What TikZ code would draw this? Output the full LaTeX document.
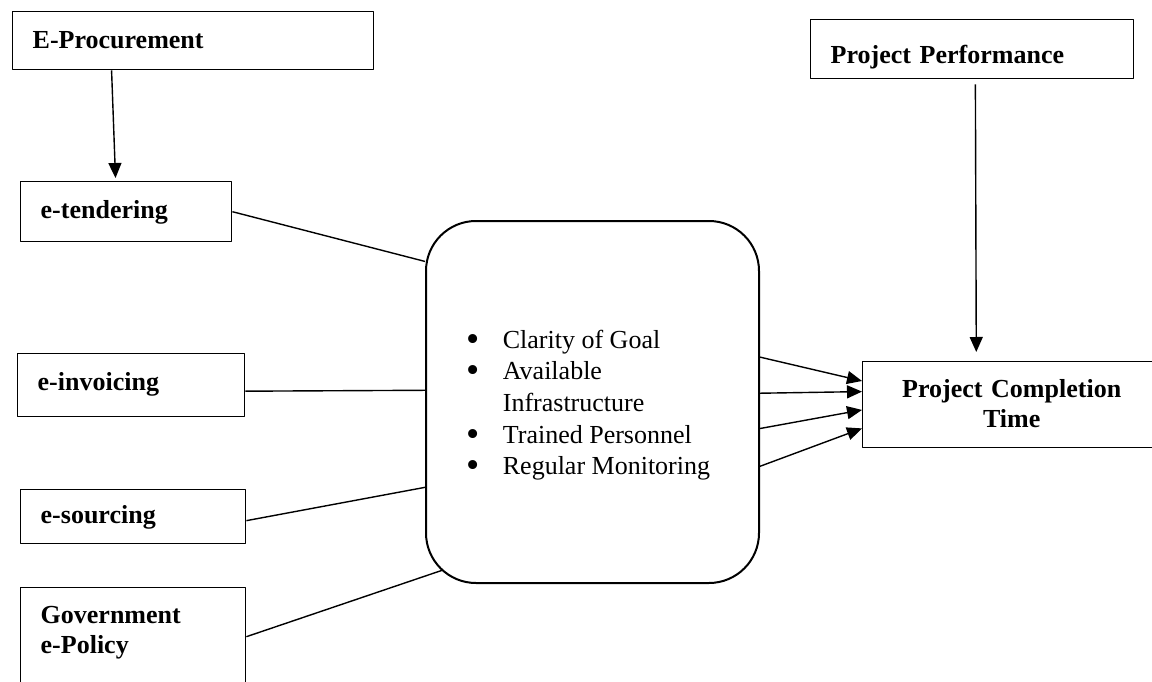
\documentclass[tikz,border=0pt]{standalone}
\usepackage{fontspec}
\setmainfont{Liberation Serif}
\usetikzlibrary{arrows.meta}
\newcommand{\bigbul}{\raisebox{-3pt}{\scalebox{1.45}{\textbullet}}}
\begin{document}
\begin{tikzpicture}[x=1pt, y=-1pt, line width=1.4pt, line join=round, >={Triangle[length=15pt, width=13pt]},
	lbl/.style={draw, anchor=north west, align=left, inner xsep=20pt, inner ysep=0pt, font=\fontsize{26}{30}\selectfont\bfseries}]
	\useasboundingbox (0,0) rectangle (1152,682);
	\node[lbl, text width=321pt, text height=37pt, text depth=21pt] (proc) at (12,11) {E-Procurement};
	\node[lbl, text width=171pt, text height=37pt, text depth=23pt] (tend) at (20,181) {e-tendering};
	\node[lbl, text width=187pt, text height=37pt, text depth=26pt] (inv) at (17,353) {e-invoicing};
	\node[lbl, text width=185pt, text height=34pt, text depth=20pt] (src) at (20,489) {e-sourcing};
	\node[lbl, text width=185pt, text height=36pt, text depth=62pt] (gov) at (20,587) {Government\\e-Policy};
	\node[lbl, text width=283pt, text height=44pt, text depth=15pt] (perf) at (810,19) {Project Performance};
	\node[lbl, align=center, text width=258pt, text height=36pt, text depth=50pt] (pct) at (862,361) {Project Completion\\Time};
	\node[draw, line width=2pt, rounded corners=50pt, minimum width=333pt, minimum height=362pt, text height=22pt, text depth=130pt, font=\fontsize{26}{31.7}\selectfont] (mid) at (592.5,402)
		{\begin{tabular}[t]{@{}p{36pt}@{}l@{\hspace{8pt}}}
		\bigbul & Clarity of Goal\\
		\bigbul & Available\\
		& Infrastructure\\
		\bigbul & Trained Personnel\\
		\bigbul & Regular Monitoring
		\end{tabular}};
	\coordinate (govend) at (443,570);
	\draw[->, shorten >=3pt] (proc.200.8) -- (tend.109.3);
	\draw[->, shorten <=5pt, shorten >=9pt] (perf.276.8) -- (pct.129.9);
	\draw (tend.east) -- (mid.140.5);
	\draw (inv.357.2) -- (mid.176.2);
	\draw (src.358.5) -- (mid.207);
	\draw (gov.east) -- (govend);
	\draw[->] (mid.15.4) -- (pct.171.6);
	\draw[->] (mid.3.1) -- (pct.175.8);
	\draw[->] (mid.351.5) -- (pct.182.3);
	\draw[->] (mid.339.6) -- (pct.189.9);
\end{tikzpicture}
\end{document}
